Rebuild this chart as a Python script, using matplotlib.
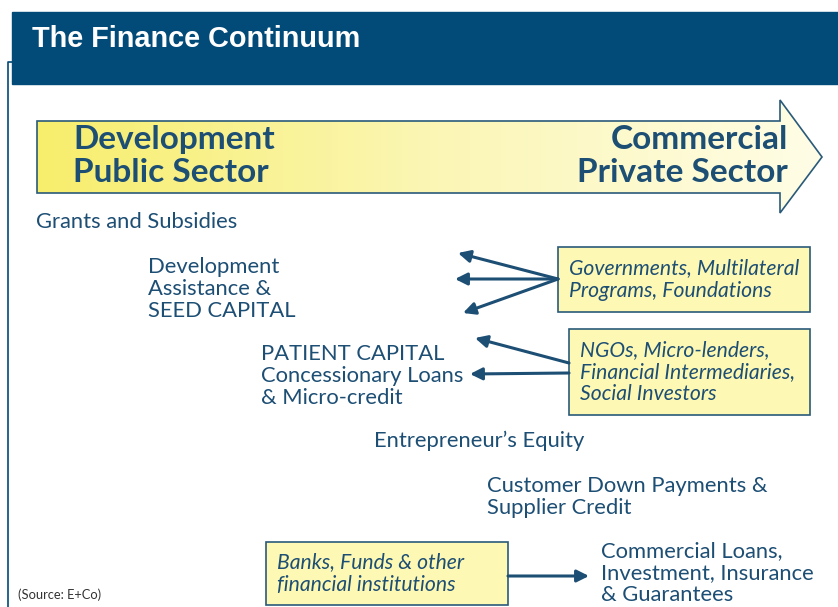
import numpy as np
import matplotlib.pyplot as plt
from matplotlib.patches import Polygon, Rectangle
from matplotlib.colors import LinearSegmentedColormap

# Testi del diagramma
titolo = "The Finance Continuum"
estremi = ["Development\nPublic Sector", "Commercial\nPrivate Sector"]
stadi = [
    "Grants and Subsidies",
    "Development\nAssistance &\nSEED CAPITAL",
    "PATIENT CAPITAL\nConcessionary Loans\n& Micro-credit",
    "Entrepreneur\u2019s Equity",
    "Customer Down Payments &\nSupplier Credit",
    "Commercial Loans,\nInvestment, Insurance\n& Guarantees",
]
fonti = [
    "Governments, Multilateral\nPrograms, Foundations",
    "NGOs, Micro-lenders,\nFinancial Intermediaries,\nSocial Investors",
    "Banks, Funds & other\nfinancial institutions",
]
nota = "(Source: E+Co)"

BLU = "#024a78"
TESTO = "#1d4e74"
FONT = "Lato"

fig = plt.figure(figsize=(8.38, 6.07), dpi=100)
ax = fig.add_axes([0, 0, 1, 1])
ax.set_xlim(0, 838)
ax.set_ylim(607, 0)
ax.axis("off")

# Intestazione
ax.add_patch(Rectangle((12, 12), 826, 72, color=BLU, zorder=1))
ax.text(32, 39, titolo, color="white", fontsize=20.8, fontweight="bold",
        family="Liberation Sans", va="center")
ax.plot([8, 8, 12], [607, 62, 62], color=BLU, lw=1.2)

# Freccia grande con sfumatura
punti = [(37, 121), (780, 121), (780, 100), (822, 157), (780, 213), (780, 193), (37, 193)]
freccia = Polygon(punti, closed=True, fc="none", ec="#2a5a7a", lw=1.2, zorder=3)
ax.add_patch(freccia)
cmap = LinearSegmentedColormap.from_list("giallo", ["#f7ee6c", "#fbf6b4", "#fffde6"])
grad = np.linspace(0, 1, 256).reshape(1, -1)
img = ax.imshow(grad, cmap=cmap, extent=(37, 822, 213, 100), aspect="auto", zorder=2)
img.set_clip_path(freccia)

ax.text(73, 156, estremi[0], color=TESTO, fontsize=24, fontweight="bold",
        family=FONT, va="center", linespacing=1.14)
ax.text(788, 156, estremi[1], color=TESTO, fontsize=24, fontweight="bold",
        family=FONT, va="center", ha="right", linespacing=1.14)

# Stadi del continuum
pos_stadi = [(36, 222), (148, 289), (261, 376), (374, 441), (487, 497), (601, 573)]
for s, (x, y) in zip(stadi, pos_stadi):
    ax.text(x, y, s, color=TESTO, fontsize=15.8, family=FONT, va="center",
            linespacing=1.14)

# Riquadri delle fonti
box = [(558, 247, 252, 65), (569, 329, 241, 86), (266, 542, 242, 63)]
for f, (x, y, w, h) in zip(fonti, box):
    ax.add_patch(Rectangle((x, y), w, h, fc="#fdf8b4", ec="#2a5a7a", lw=1.2, zorder=3))
    ax.text(x + 11, y + h / 2, f, color=TESTO, fontsize=15.2, family=FONT,
            style="italic", va="center", linespacing=1.14, zorder=4)

# Frecce
frecce = [((558, 279), (458, 253)), ((558, 279), (455, 279)), ((558, 279), (463, 313)),
          ((569, 363), (475, 338)), ((569, 373), (470, 374)), ((508, 576), (589, 576))]
for (x0, y0), (x1, y1) in frecce:
    ax.annotate("", xy=(x1, y1), xytext=(x0, y0),
                arrowprops=dict(arrowstyle="-|>", color=TESTO, lw=2.2,
                                mutation_scale=18, shrinkA=0, shrinkB=0))

ax.text(18, 595, nota, color="#333333", fontsize=9.3, family=FONT, va="center")

fig.savefig("out.png", dpi=100)
